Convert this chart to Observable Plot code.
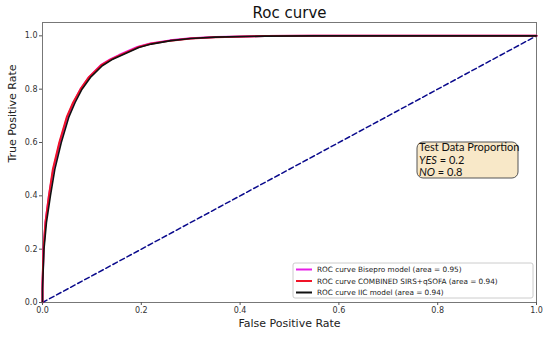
<!DOCTYPE html>
<html><head><meta charset="utf-8">
<script src="https://cdn.jsdelivr.net/npm/d3@7"></script>
<script src="https://cdn.jsdelivr.net/npm/@observablehq/plot@0.6"></script>
<style>
body{margin:0;background:#fff;}
#chart svg{display:block;}
</style>
</head><body><div id="chart"></div>
<script>
// ROC curves (fpr, tpr)
const bisepro = [[0,0],[0,0.07],[0.001,0.12],[0.002,0.2],[0.006,0.3],[0.013,0.4],[0.022,0.5],[0.035,0.6],[0.05,0.695],[0.063,0.75],[0.077,0.8],[0.094,0.845],[0.118,0.89],[0.137,0.912],[0.155,0.928],[0.192,0.958],[0.218,0.971],[0.258,0.983],[0.3,0.991],[0.35,0.996],[0.45,0.999],[0.55,1],[1,1]];
const combined = [[0,0],[0,0.08],[0.001,0.13],[0.002,0.2],[0.006,0.3],[0.013,0.4],[0.021,0.5],[0.034,0.6],[0.049,0.695],[0.062,0.75],[0.077,0.8],[0.094,0.845],[0.119,0.89],[0.138,0.911],[0.156,0.927],[0.193,0.957],[0.219,0.97],[0.259,0.982],[0.3,0.99],[0.35,0.995],[0.45,0.999],[0.55,1],[1,1]];
const iic = [[0,0],[0,0.05],[0.001,0.1],[0.003,0.2],[0.008,0.3],[0.016,0.4],[0.025,0.5],[0.038,0.6],[0.053,0.694],[0.066,0.75],[0.08,0.8],[0.097,0.844],[0.121,0.888],[0.14,0.91],[0.158,0.925],[0.195,0.956],[0.22,0.969],[0.26,0.982],[0.3,0.99],[0.35,0.995],[0.45,0.999],[0.55,1],[1,1]];
const chance = [[0,0],[1,1]];
const seriesNames = ["ROC curve Bisepro model (area = 0.95)","ROC curve COMBINED SIRS+qSOFA (area = 0.94)","ROC curve IIC model (area = 0.94)"];
const seriesColors = ["#e61ee6","#f01428","#111111"];
const ticks = [0,0.2,0.4,0.6,0.8,1.0];
const boxLines = [["Test Data Proportion",""],["YES"," = 0.2"],["NO"," = 0.8"]];

const W = 550, H = 337;
const font = "DejaVu Sans, sans-serif";
const plot = Plot.plot({
  width: W, height: H,
  marginLeft: 42, marginRight: 14, marginTop: 22, marginBottom: 35,
  style: {fontFamily: font, fontSize: "8px", color: "#333", background: "#fff"},
  x: {domain: [0,1], ticks, tickFormat: d3.format(".1f"), label: null, tickSize: 3, tickPadding: 2},
  y: {domain: [0,1.05], ticks, tickFormat: d3.format(".1f"), label: null, tickSize: 3, tickPadding: 2},
  marks: [
    Plot.frame({stroke: "#777", strokeWidth: 1}),
    Plot.line(chance, {x: d=>d[0], y: d=>d[1], stroke: "#0a0a8c", strokeWidth: 1.5, strokeDasharray: "5,3"}),
    Plot.line(bisepro, {x: d=>d[0], y: d=>d[1], stroke: seriesColors[0], strokeWidth: 2}),
    Plot.line(combined, {x: d=>d[0], y: d=>d[1], stroke: seriesColors[1], strokeWidth: 2}),
    Plot.line(iic, {x: d=>d[0], y: d=>d[1], stroke: seriesColors[2], strokeWidth: 1.6}),
    Plot.axisX({ticks, tickFormat: d3.format(".1f"), tickSize: 3, tickPadding: 2, label: null, stroke:"#555"}),
    Plot.axisY({ticks, tickFormat: d3.format(".1f"), tickSize: 3, tickPadding: 2, label: null, stroke:"#555"}),
    Plot.text(["Roc curve"], {frameAnchor: "top", dy: -9, fontSize: 15, fill: "#111", lineAnchor: "middle"}),
    Plot.text(["False Positive Rate"], {frameAnchor: "bottom", dy: 21, fontSize: 11, fill: "#222", lineAnchor: "middle"}),
    Plot.text(["True Positive Rate"], {frameAnchor: "left", dx: -30, rotate: -90, fontSize: 11, fill: "#222", lineAnchor: "middle"})
  ]
});
document.getElementById("chart").appendChild(plot);

const svg = d3.select(plot);
// legend
const lg = svg.append("g").attr("font-family", font).attr("font-size", 7.3).attr("text-anchor", "start");
lg.append("rect").attr("x", 293).attr("y", 263).attr("width", 240).attr("height", 35)
  .attr("rx", 2).attr("fill", "#fff").attr("fill-opacity", 0.85).attr("stroke", "#ccc");
seriesNames.forEach((n, i) => {
  const y = 269.5 + i * 11.5;
  lg.append("line").attr("x1", 296).attr("x2", 312).attr("y1", y).attr("y2", y)
    .attr("stroke", seriesColors[i]).attr("stroke-width", 2);
  lg.append("text").attr("x", 317).attr("y", y).attr("dy", "0.35em").attr("fill", "#222").text(n);
});
// text box
const tb = svg.append("g").attr("font-family", "Lato, 'Open Sans', sans-serif").attr("font-size", 11).attr("text-anchor", "start");
tb.append("rect").attr("x", 417).attr("y", 142).attr("width", 101).attr("height", 36)
  .attr("rx", 6).attr("fill", "#f8e8c8").attr("stroke", "#555").attr("stroke-width", 1);
boxLines.forEach((l, i) => {
  const t = tb.append("text").attr("x", 419).attr("y", 147.5 + i * 12.5).attr("dy", "0.35em").attr("fill", "#111");
  if (i === 0) t.text(l[0]);
  else { t.append("tspan").attr("font-style", "italic").text(l[0]); t.append("tspan").text(l[1]); }
});
</script>
</body></html>
